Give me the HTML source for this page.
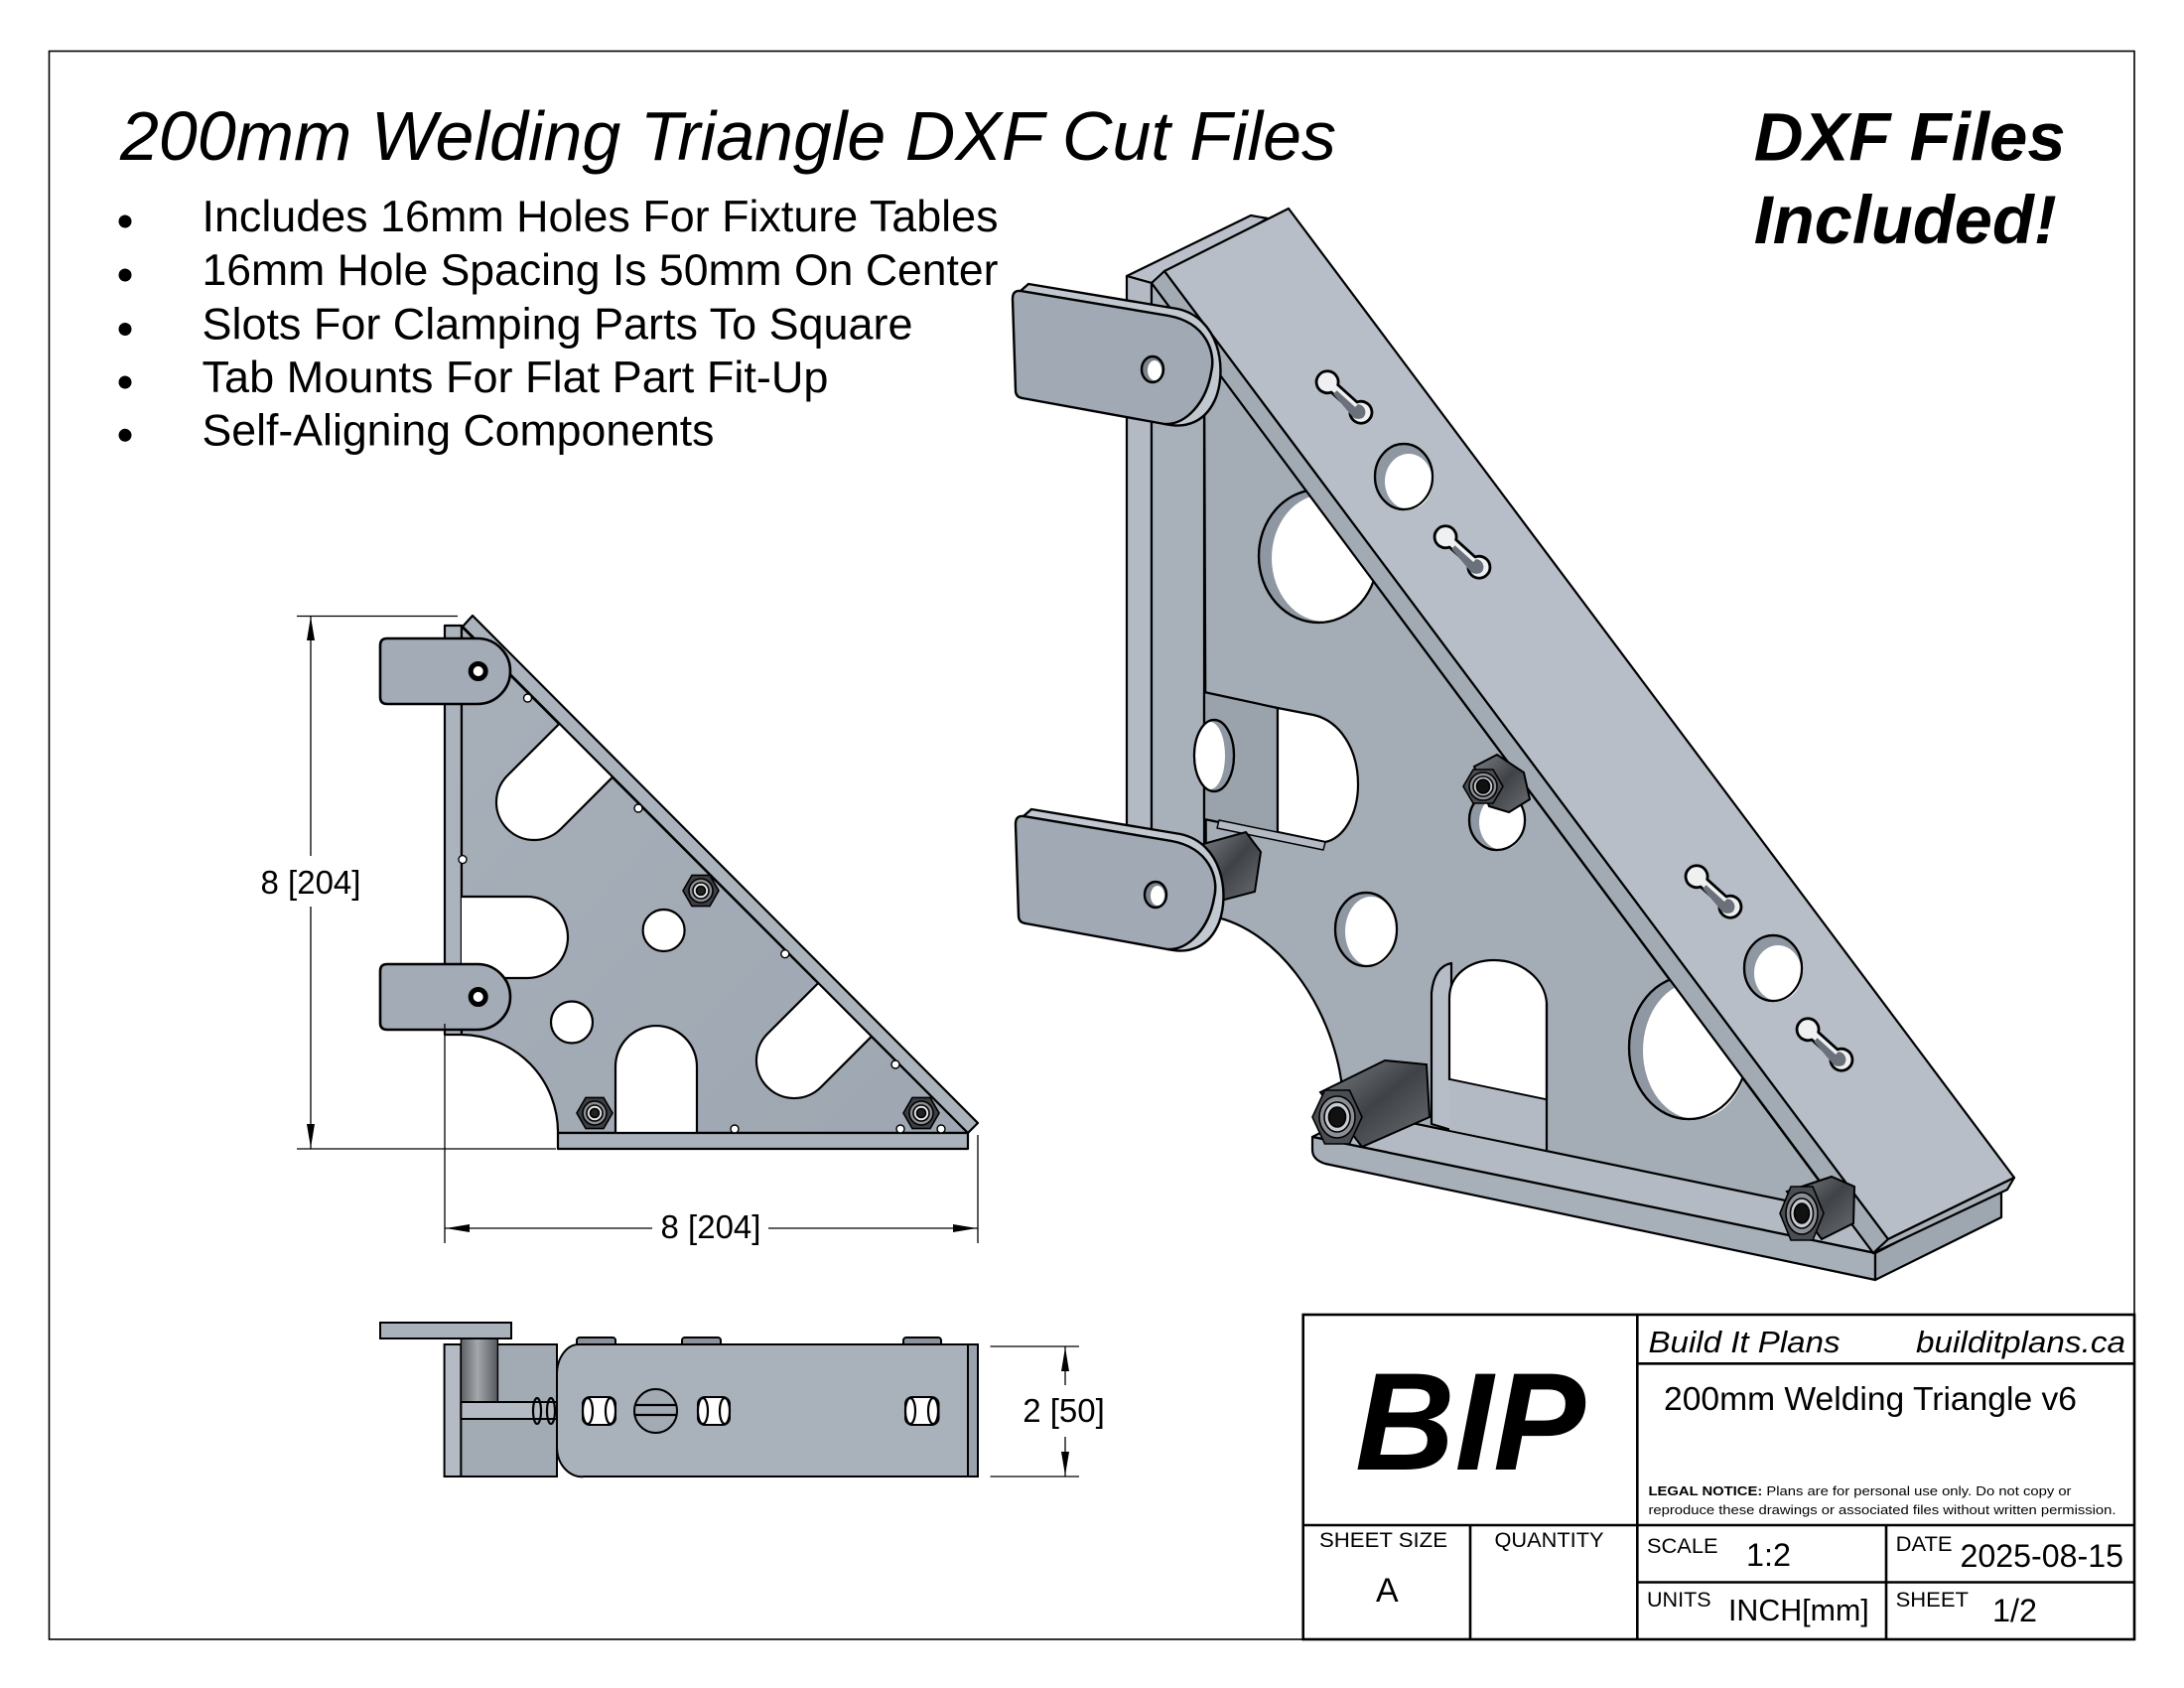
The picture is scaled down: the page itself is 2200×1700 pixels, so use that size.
<!DOCTYPE html>
<html><head><meta charset="utf-8">
<style>
html,body{margin:0;padding:0;background:#fff;}
svg{display:block;}
text{font-family:"Liberation Sans", Arial, sans-serif;fill:#000;}
</style></head><body>
<svg width="2200" height="1700" viewBox="0 0 2200 1700" xmlns="http://www.w3.org/2000/svg">
<defs>
<linearGradient id="nutg" x1="0" y1="0" x2="1" y2="1">
<stop offset="0" stop-color="#7c8086"/><stop offset="0.5" stop-color="#3f4246"/><stop offset="1" stop-color="#6a6d72"/>
</linearGradient>
<linearGradient id="cylg" x1="0" y1="0" x2="1" y2="0">
<stop offset="0" stop-color="#5d6065"/><stop offset="0.45" stop-color="#a4a8ad"/><stop offset="1" stop-color="#55585d"/>
</linearGradient>
<linearGradient id="webg" x1="0" y1="0" x2="1" y2="1">
<stop offset="0" stop-color="#a7afb9"/><stop offset="1" stop-color="#9ea6b1"/>
</linearGradient>
</defs>
<rect width="2200" height="1700" fill="#fff"/>
<rect x="49.5" y="51.5" width="2100.5" height="1599.5" fill="none" stroke="#000" stroke-width="1.6"/>

<!-- Title & bullets -->
<text x="121" y="161" font-size="69.5" font-style="italic" textLength="1225" lengthAdjust="spacingAndGlyphs">200mm Welding Triangle DXF Cut Files</text>
<g>
<circle cx="126" cy="223" r="6.5" fill="#000"/>
<circle cx="126" cy="277" r="6.5" fill="#000"/>
<circle cx="126" cy="331.5" r="6.5" fill="#000"/>
<circle cx="126" cy="385" r="6.5" fill="#000"/>
<circle cx="126" cy="438.3" r="6.5" fill="#000"/>
</g>
<text x="203.5" y="233" font-size="44.5" textLength="802" lengthAdjust="spacingAndGlyphs">Includes 16mm Holes For Fixture Tables</text>
<text x="203.5" y="287" font-size="44.5" textLength="802" lengthAdjust="spacingAndGlyphs">16mm Hole Spacing Is 50mm On Center</text>
<text x="203.5" y="341.5" font-size="44.5" textLength="716" lengthAdjust="spacingAndGlyphs">Slots For Clamping Parts To Square</text>
<text x="203.5" y="395" font-size="44.5" textLength="631" lengthAdjust="spacingAndGlyphs">Tab Mounts For Flat Part Fit-Up</text>
<text x="203.5" y="448.3" font-size="44.5" textLength="516" lengthAdjust="spacingAndGlyphs">Self-Aligning Components</text>

<text x="1766.7" y="161.7" font-size="69" font-weight="bold" font-style="italic" textLength="314" lengthAdjust="spacingAndGlyphs">DXF Files</text>
<text x="1766.7" y="245" font-size="69" font-weight="bold" font-style="italic" textLength="305" lengthAdjust="spacingAndGlyphs">Included!</text>

<!-- ================= FRONT VIEW ================= -->
<g stroke="#000" stroke-width="2.2" stroke-linejoin="round">
<rect x="448" y="630" width="17" height="412" fill="#abb3bd"/>
<path d="M465,631 L975,1141 L562,1141 A98,98 0 0 0 465,1042 Z" fill="url(#webg)"/>
<path d="M567.7,724.6 L511.1,781.1 A38,38 0 0 0 564.9,834.9 L621.4,778.3 Z" fill="#fff"/>
<path d="M829.7,984.6 L773.1,1041.1 A38,38 0 0 0 826.9,1094.9 L883.4,1038.3 Z" fill="#fff"/>
<path d="M465,903 L531,903 A41,41 0 0 1 531,985 L465,985" fill="#fff"/>
<circle cx="668.6" cy="937" r="21" fill="#fff"/>
<circle cx="576" cy="1029.5" r="21" fill="#fff"/>
<path d="M620,1141 L620,1074 A41,41 0 0 1 702,1074 L702,1141" fill="#fff"/>
<path d="M476,620 L985,1131 L975,1141 L466,631 Z" fill="#aab2bc"/>
<rect x="562" y="1141" width="413" height="16" fill="#aab2bc"/>
</g>
<g fill="#fff" stroke="#000" stroke-width="1.4">
<circle cx="531.5" cy="703" r="4"/><circle cx="643" cy="814" r="4"/><circle cx="790.8" cy="960.7" r="4"/>
<circle cx="902" cy="1072" r="4"/><circle cx="466" cy="865.6" r="4"/><circle cx="740" cy="1137" r="4"/>
<circle cx="907" cy="1137" r="4"/><circle cx="948" cy="1137" r="4"/>
</g>
<g stroke="#000" stroke-width="1.6">
<g transform="translate(706,897)"><polygon points="18,0 9,15.6 -9,15.6 -18,0 -9,-15.6 9,-15.6" fill="#3c3f44"/><circle r="12" fill="#8a8e94"/><circle r="8" fill="#e4e6e8"/><circle r="4.5" fill="#222"/></g>
<g transform="translate(599,1121)"><polygon points="18,0 9,15.6 -9,15.6 -18,0 -9,-15.6 9,-15.6" fill="#3c3f44"/><circle r="12" fill="#8a8e94"/><circle r="8" fill="#e4e6e8"/><circle r="4.5" fill="#222"/></g>
<g transform="translate(928,1121)"><polygon points="18,0 9,15.6 -9,15.6 -18,0 -9,-15.6 9,-15.6" fill="#3c3f44"/><circle r="12" fill="#8a8e94"/><circle r="8" fill="#e4e6e8"/><circle r="4.5" fill="#222"/></g>
</g>
<g stroke="#000" stroke-width="2.6" fill="#a3abb6">
<path d="M390,643 L481,643 A33,33 0 0 1 481,709 L390,709 Q383,709 383,702 L383,650 Q383,643 390,643 Z"/>
<path d="M390,971 L481,971 A33,33 0 0 1 481,1037 L390,1037 Q383,1037 383,1030 L383,978 Q383,971 390,971 Z"/>
</g>
<circle cx="481.7" cy="676" r="7.5" fill="#fff" stroke="#000" stroke-width="5"/>
<circle cx="481.7" cy="1004" r="7.5" fill="#fff" stroke="#000" stroke-width="5"/>

<g stroke="#000" stroke-width="1.3" fill="none">
<line x1="299" y1="620.5" x2="461" y2="620.5"/>
<line x1="299" y1="1157" x2="560" y2="1157"/>
<line x1="313" y1="620" x2="313" y2="862"/>
<line x1="313" y1="913" x2="313" y2="1157"/>
<line x1="448" y1="1031" x2="448" y2="1252"/>
<line x1="985" y1="1143" x2="985" y2="1252"/>
<line x1="448" y1="1237" x2="657" y2="1237"/>
<line x1="774" y1="1237" x2="985" y2="1237"/>
</g>
<g fill="#000">
<polygon points="313,621 309,645 317,645"/>
<polygon points="313,1156 309,1132 317,1132"/>
<polygon points="449,1237 473,1233 473,1241"/>
<polygon points="984,1237 960,1233 960,1241"/>
</g>
<text x="313" y="900" font-size="33" text-anchor="middle">8 [204]</text>
<text x="716" y="1247" font-size="33" text-anchor="middle">8 [204]</text>

<!-- ================= SIDE VIEW ================= -->
<g stroke="#000" stroke-width="2">
<rect x="447.6" y="1354" width="16.8" height="133" fill="#b4bbc4"/>
<rect x="464.4" y="1354" width="96.6" height="133" fill="#a2aab4"/>
<rect x="464.4" y="1348" width="37" height="64" fill="url(#cylg)" stroke-width="1.4"/>
<rect x="464.4" y="1412" width="96.6" height="17" fill="#b4bbc4"/>
<rect x="383" y="1332" width="132" height="16" fill="#a9b1bb"/>
<rect x="581" y="1347" width="39" height="9" rx="3" fill="#8c929a"/>
<rect x="687" y="1347" width="39" height="9" rx="3" fill="#8c929a"/>
<rect x="910" y="1347" width="38" height="9" rx="3" fill="#8c929a"/>
<path d="M583,1354 L975,1354 L975,1487 L589,1487 A25,30 0 0 1 561,1457 L561,1384 A22,30 0 0 1 583,1354 Z" fill="#a9b1bb"/>
<rect x="975" y="1354" width="10" height="133" fill="#9aa2ac"/>
</g>
<g stroke="#000" stroke-width="2" fill="#fff">
<rect x="587" y="1407" width="33" height="28" rx="7"/>
<rect x="703" y="1407" width="32" height="28" rx="7"/>
<rect x="912" y="1407" width="33.5" height="28" rx="7"/>
<ellipse cx="660.5" cy="1421" rx="21.5" ry="22" fill="#a2aab4"/>
</g>
<g stroke="#000" stroke-width="2.2" fill="none">
<ellipse cx="592" cy="1421" rx="5" ry="13"/><ellipse cx="615" cy="1421" rx="5" ry="13"/>
<ellipse cx="708" cy="1421" rx="5" ry="13"/><ellipse cx="730" cy="1421" rx="5" ry="13"/>
<ellipse cx="917" cy="1421" rx="5" ry="13"/><ellipse cx="940" cy="1421" rx="5" ry="13"/>
<ellipse cx="541" cy="1421" rx="4" ry="13"/><ellipse cx="555" cy="1421" rx="4" ry="13"/>
<line x1="640" y1="1415" x2="681" y2="1415"/><line x1="640" y1="1425" x2="681" y2="1425"/>
</g>
<g stroke="#000" stroke-width="1.3">
<line x1="997.5" y1="1356" x2="1087" y2="1356"/>
<line x1="997.5" y1="1487" x2="1087" y2="1487"/>
<line x1="1073" y1="1356" x2="1073" y2="1395"/>
<line x1="1073" y1="1447" x2="1073" y2="1487"/>
</g>
<polygon points="1073,1357 1069,1381 1077,1381" fill="#000"/>
<polygon points="1073,1486 1069,1462 1077,1462" fill="#000"/>
<text x="1071.5" y="1432" font-size="33" text-anchor="middle">2 [50]</text>

<!-- ================= ISO VIEW ================= -->
<g stroke="#000" stroke-width="2.2" stroke-linejoin="round">
<polygon points="1449,1080 2016,1197 1889,1262 1322,1145" fill="#b3bac3"/>
<path d="M1322,1145 L1889,1262 L1889,1289 L1335,1172 Q1322,1168 1322,1158 Z" fill="#a7afb9"/>
<polygon points="1889,1262 2016,1197 2016,1226 1889,1289" fill="#9ea6b0"/>
<polygon points="1135,278 1260,217 1277,220 1160,285" fill="#b9c0c9"/>
<polygon points="1135,278 1160,285 1160,905 1135,895" fill="#b3bac3"/>
<polygon points="1160,285 1213,356 1213,905 1160,905" fill="#a8b0ba"/>
<path d="M1213,356 L1856,1221 L1355,1117 L1352,1095 C1342,1010 1282,930 1215,922 Z" fill="#a4acb6"/>
<polygon points="1213,697 1287,713 1287,840 1213,825" fill="#9aa2ac"/>
<path d="M1287,713 L1323,720 C1350,726 1368,755 1368,790 C1368,822 1352,845 1335,848 L1287,838 Z" fill="#fff"/>
<polygon points="1228,826 1335,848 1333,856 1226,834" fill="#b4bbc4" stroke-width="1.5"/>
</g>
<g stroke="#000" stroke-width="2.2">
<ellipse cx="1328" cy="560" rx="60" ry="67" fill="#8f97a2"/>
<ellipse cx="1223" cy="761" rx="20" ry="36" fill="#8f97a2"/>
<ellipse cx="1376" cy="936" rx="31" ry="37" fill="#8f97a2"/>
<ellipse cx="1508" cy="826" rx="28" ry="30" fill="#8f97a2"/>
<ellipse cx="1701" cy="1055" rx="60" ry="72" fill="#8f97a2"/>
</g>
<g fill="#fff">
<ellipse cx="1334" cy="562" rx="53" ry="64"/>
<ellipse cx="1219" cy="761" rx="15" ry="34"/>
<ellipse cx="1381" cy="938" rx="26" ry="35"/>
<ellipse cx="1513" cy="828" rx="23" ry="28"/>
<ellipse cx="1708" cy="1058" rx="53" ry="69"/>
</g>
<g stroke="#000" stroke-width="2.2" fill="none">
<ellipse cx="1328" cy="560" rx="60" ry="67"/>
<ellipse cx="1223" cy="761" rx="20" ry="36"/>
<ellipse cx="1376" cy="936" rx="31" ry="37"/>
<ellipse cx="1508" cy="826" rx="28" ry="30"/>
<ellipse cx="1701" cy="1055" rx="60" ry="72"/>
</g>
<g stroke="#000" stroke-width="2.2" stroke-linejoin="round">
<path d="M1442,1132 L1442,1000 C1444,980 1452,972 1462,970 L1462,1138 Z" fill="#b6bdc6"/>
<path d="M1460,1087 L1460,1005 C1460,982 1480,967 1505,967 C1532,967 1556,985 1558,1010 L1558,1107.5 Z" fill="#fff"/>
<polygon points="1460,1087 1558,1107.5 1558,1158 1460,1138" fill="#b3bac3" stroke="none"/>
<line x1="1460" y1="1087" x2="1558" y2="1107.5" stroke-width="1.6"/>
<line x1="1558" y1="1010" x2="1558" y2="1158"/>
</g>
<g stroke="#000" stroke-width="2.2" stroke-linejoin="round">
<polygon points="1160,285 1173,273 1902,1248 1887,1262" fill="#a2aab4"/>
<polygon points="1173,273 1298,210 2029,1186 1902,1248" fill="#b7bec7"/>
<polygon points="1887,1262 1902,1248 2029,1186 2022,1198" fill="#a9b0ba"/>
</g>
<g stroke="#000" stroke-width="2.2">
<ellipse cx="1414" cy="480" rx="29" ry="33" fill="#8f97a2"/>
<ellipse cx="1786" cy="975" rx="29" ry="33" fill="#8f97a2"/>
</g>
<ellipse cx="1419" cy="485" rx="24" ry="28" fill="#fff"/>
<ellipse cx="1791" cy="980" rx="24" ry="28" fill="#fff"/>
<g stroke="#000" stroke-width="2.2" fill="none">
<ellipse cx="1414" cy="480" rx="29" ry="33"/>
<ellipse cx="1786" cy="975" rx="29" ry="33"/>
</g>
<!-- band slots -->
<g stroke="#000" stroke-width="2.8" fill="#eef0f2" stroke-linejoin="round">
<path transform="translate(1354,400) rotate(42)" d="M-13,-5 L13,-5 A11,11 0 1 1 13,5 L-13,5 A11,11 0 1 1 -13,-5 Z"/>
<path transform="translate(1473,556) rotate(42)" d="M-13,-5 L13,-5 A11,11 0 1 1 13,5 L-13,5 A11,11 0 1 1 -13,-5 Z"/>
<path transform="translate(1726,898) rotate(42)" d="M-13,-5 L13,-5 A11,11 0 1 1 13,5 L-13,5 A11,11 0 1 1 -13,-5 Z"/>
<path transform="translate(1838,1052) rotate(42)" d="M-13,-5 L13,-5 A11,11 0 1 1 13,5 L-13,5 A11,11 0 1 1 -13,-5 Z"/>
</g>
<g fill="#6a717b">
<path transform="translate(1354,400) rotate(42)" d="M-10,0 L15,0 L15,-4 A8,8 0 0 1 28,2 A9,9 0 0 1 20,9 L-10,5 Z"/>
<path transform="translate(1473,556) rotate(42)" d="M-10,0 L15,0 L15,-4 A8,8 0 0 1 28,2 A9,9 0 0 1 20,9 L-10,5 Z"/>
<path transform="translate(1726,898) rotate(42)" d="M-10,0 L15,0 L15,-4 A8,8 0 0 1 28,2 A9,9 0 0 1 20,9 L-10,5 Z"/>
<path transform="translate(1838,1052) rotate(42)" d="M-10,0 L15,0 L15,-4 A8,8 0 0 1 28,2 A9,9 0 0 1 20,9 L-10,5 Z"/>
</g>
<g stroke="#000" stroke-width="2">
<polygon points="1485,772 1508,760 1535,778 1541,805 1520,818 1500,812" fill="url(#nutg)"/>
<polygon points="1330,1100 1395,1068 1437,1072 1440,1125 1372,1155" fill="url(#nutg)"/>
<polygon points="1800,1200 1845,1185 1868,1195 1867,1232 1835,1248" fill="url(#nutg)"/>
</g>
<g stroke="#000" stroke-width="1.6">
<g transform="translate(1494,792)"><polygon points="20,0 10,17 -10,17 -20,0 -10,-17 10,-17" fill="#4a4d52"/><ellipse rx="14" ry="14" fill="#8c9096"/><ellipse rx="10" ry="10" fill="#c8cbcf"/><ellipse rx="6.5" ry="7" fill="#111"/></g>
<g transform="translate(1347,1125)"><polygon points="25,0 12.5,27 -12.5,27 -25,0 -12.5,-27 12.5,-27" fill="#4a4d52"/><ellipse rx="18" ry="21" fill="#8c9096"/><ellipse rx="13" ry="15" fill="#c8cbcf"/><ellipse rx="8.5" ry="10" fill="#111"/></g>
<g transform="translate(1815,1222)"><polygon points="22,0 11,27 -11,27 -22,0 -11,-27 11,-27" fill="#4a4d52"/><ellipse rx="16" ry="21" fill="#8c9096"/><ellipse rx="11.5" ry="15" fill="#c8cbcf"/><ellipse rx="7.5" ry="10" fill="#111"/></g>
</g>
<polygon points="1212,850 1255,838 1270,858 1264,898 1226,908 1208,885" fill="url(#nutg)" stroke="#000" stroke-width="2"/>
<g stroke="#000" stroke-width="2.4" stroke-linejoin="round">
<g>
<path d="M1028,293 L1036,286 L1186,311 C1228,320 1236,370 1225,400 C1215,425 1195,432 1173,427 C1195,428 1215,405 1220,375 C1225,355 1215,325 1177,318 Z" fill="#c2c8d0"/>
<path d="M1028,293 L1177,318 C1215,325 1225,355 1220,375 C1215,405 1195,428 1173,427 L1030,401 Q1023,400 1023,393 L1020,301 Q1020,292 1028,293 Z" fill="#a1a9b4"/>
<ellipse cx="1161" cy="372" rx="11" ry="13" fill="#7d848e"/>
<ellipse cx="1163" cy="373" rx="7" ry="10" fill="#fff" stroke="none"/>
</g>
<g transform="translate(3,529)">
<path d="M1028,293 L1036,286 L1186,311 C1228,320 1236,370 1225,400 C1215,425 1195,432 1173,427 C1195,428 1215,405 1220,375 C1225,355 1215,325 1177,318 Z" fill="#c2c8d0"/>
<path d="M1028,293 L1177,318 C1215,325 1225,355 1220,375 C1215,405 1195,428 1173,427 L1030,401 Q1023,400 1023,393 L1020,301 Q1020,292 1028,293 Z" fill="#a1a9b4"/>
<ellipse cx="1161" cy="372" rx="11" ry="13" fill="#7d848e"/>
<ellipse cx="1163" cy="373" rx="7" ry="10" fill="#fff" stroke="none"/>
</g>
</g>

<!-- ================= TITLE BLOCK ================= -->
<g stroke="#000" stroke-width="2.6" fill="none">
<rect x="1312.7" y="1324" width="837.3" height="327"/>
<line x1="1649.3" y1="1324" x2="1649.3" y2="1651"/>
<line x1="1312.7" y1="1536" x2="2150" y2="1536"/>
<line x1="1481" y1="1536" x2="1481" y2="1651"/>
<line x1="1649.3" y1="1373.3" x2="2150" y2="1373.3"/>
<line x1="1649.3" y1="1593.5" x2="2150" y2="1593.5"/>
<line x1="1900" y1="1536" x2="1900" y2="1651"/>
</g>
<text x="1365" y="1480" font-size="140" font-weight="bold" font-style="italic" textLength="232" lengthAdjust="spacingAndGlyphs">BIP</text>
<text x="1660.5" y="1362" font-size="31" font-style="italic" textLength="193" lengthAdjust="spacingAndGlyphs">Build It Plans</text>
<text x="1930" y="1362" font-size="31" font-style="italic" textLength="211" lengthAdjust="spacingAndGlyphs">builditplans.ca</text>
<text x="1676" y="1420" font-size="33" textLength="416" lengthAdjust="spacingAndGlyphs">200mm Welding Triangle v6</text>
<text x="1660.5" y="1506" font-size="13" textLength="426" lengthAdjust="spacingAndGlyphs"><tspan font-weight="bold">LEGAL NOTICE:</tspan> Plans are for personal use only. Do not copy or</text>
<text x="1660.5" y="1525" font-size="13" textLength="471" lengthAdjust="spacingAndGlyphs">reproduce these drawings or associated files without written permission.</text>
<text x="1329" y="1558" font-size="21" textLength="129" lengthAdjust="spacingAndGlyphs">SHEET SIZE</text>
<text x="1505.5" y="1558" font-size="21" textLength="110" lengthAdjust="spacingAndGlyphs">QUANTITY</text>
<text x="1386" y="1613" font-size="34">A</text>
<text x="1659" y="1564" font-size="21" textLength="71.5" lengthAdjust="spacingAndGlyphs">SCALE</text>
<text x="1759" y="1577" font-size="32" textLength="45" lengthAdjust="spacingAndGlyphs">1:2</text>
<text x="1909.6" y="1562" font-size="21" textLength="57" lengthAdjust="spacingAndGlyphs">DATE</text>
<text x="1974.5" y="1578" font-size="32" textLength="164.5" lengthAdjust="spacingAndGlyphs">2025-08-15</text>
<text x="1659" y="1618" font-size="21" textLength="64.6" lengthAdjust="spacingAndGlyphs">UNITS</text>
<text x="1741" y="1632" font-size="31" textLength="141.7" lengthAdjust="spacingAndGlyphs">INCH[mm]</text>
<text x="1909.6" y="1618" font-size="21" textLength="73.4" lengthAdjust="spacingAndGlyphs">SHEET</text>
<text x="2007" y="1633" font-size="32" textLength="45" lengthAdjust="spacingAndGlyphs">1/2</text>
</svg>
</body></html>
